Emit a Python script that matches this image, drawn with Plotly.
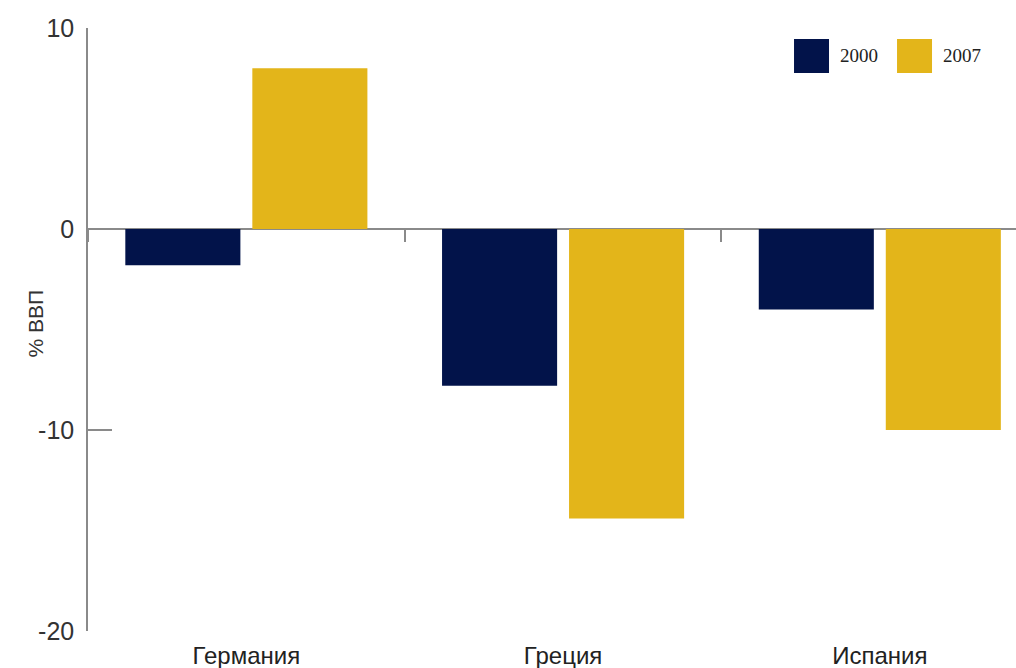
import plotly.graph_objects as go

# Budget / current-account balance, % of GDP
countries = ["Германия", "Греция", "Испания"]
years = ["2000", "2007"]
values_2000 = [-1.8, -7.8, -4.0]
values_2007 = [8.0, -14.4, -10.0]
y_ticks = [10, 0, -10, -20]
y_title = "% ВВП"

colors = {"2000": "#02134a", "2007": "#e3b51a"}
axis_grey = "#8a8a8a"

fig = go.Figure()
for year, vals in zip(years, [values_2000, values_2007]):
    fig.add_trace(go.Bar(
        x=countries, y=vals, name=year,
        marker=dict(color=colors[year], line=dict(width=0)),
        showlegend=False,
    ))

# invisible helper trace so the zero-line axis gets its categories
fig.add_trace(go.Scatter(
    x=countries, y=[0] * len(countries), xaxis="x2", mode="markers",
    marker=dict(opacity=0), showlegend=False, hoverinfo="skip",
))

x_range = [-0.5, 2.43]

fig.update_layout(
    width=1016, height=668,
    margin=dict(l=88, r=0, t=28, b=37),
    paper_bgcolor="white", plot_bgcolor="white",
    barmode="group", bargap=0.198, bargroupgap=0.094,
    xaxis=dict(
        type="category", categoryorder="array", categoryarray=countries,
        range=x_range, showline=False, ticks="", showgrid=False, zeroline=False,
        tickfont=dict(family="Liberation Sans, Arial, sans-serif", size=24, color="#222222"),
        ticklabelstandoff=8,
    ),
    xaxis2=dict(
        type="category", categoryorder="array", categoryarray=countries,
        range=x_range, overlaying="x", anchor="free", position=2 / 3, side="bottom",
        showline=False, showgrid=False, zeroline=False, showticklabels=False,
        ticks="outside", tickson="boundaries", ticklen=12, tickwidth=1.5, tickcolor=axis_grey,
    ),
    yaxis=dict(
        range=[-20, 10], tickvals=y_ticks, ticktext=[str(v) for v in y_ticks],
        showgrid=False, zeroline=True, zerolinecolor=axis_grey, zerolinewidth=1.5,
        showline=True, linecolor=axis_grey, linewidth=1.5,
        ticks="inside", ticklen=24, tickwidth=1.5, tickcolor=axis_grey,
        tickfont=dict(family="Liberation Sans Narrow, Arial Narrow, Liberation Sans, sans-serif",
                      size=25, color="#333333"),
        ticklabelstandoff=7,
    ),
)

# vertical axis title
fig.add_annotation(text=y_title, xref="paper", yref="paper",
                   x=-0.057, y=0.51, xanchor="center", yanchor="middle",
                   textangle=-90, showarrow=False,
                   font=dict(family="Liberation Sans, Arial, sans-serif", size=21, color="#333333"))

# legend: large colour squares with year labels, top right
legend_x = [0.7608, 0.8718]
for year, lx in zip(years, legend_x):
    fig.add_shape(type="rect", xref="paper", yref="paper",
                  x0=lx, x1=lx + 0.0377, y0=0.9254, y1=0.9818,
                  fillcolor=colors[year], line=dict(width=0), layer="above")
    fig.add_annotation(text=year, xref="paper", yref="paper",
                       x=lx + 0.0474, y=0.9536, xanchor="left", yanchor="middle",
                       showarrow=False,
                       font=dict(family="Liberation Serif, Times New Roman, serif", size=19, color="#222222"))

fig.write_html("out.html")
